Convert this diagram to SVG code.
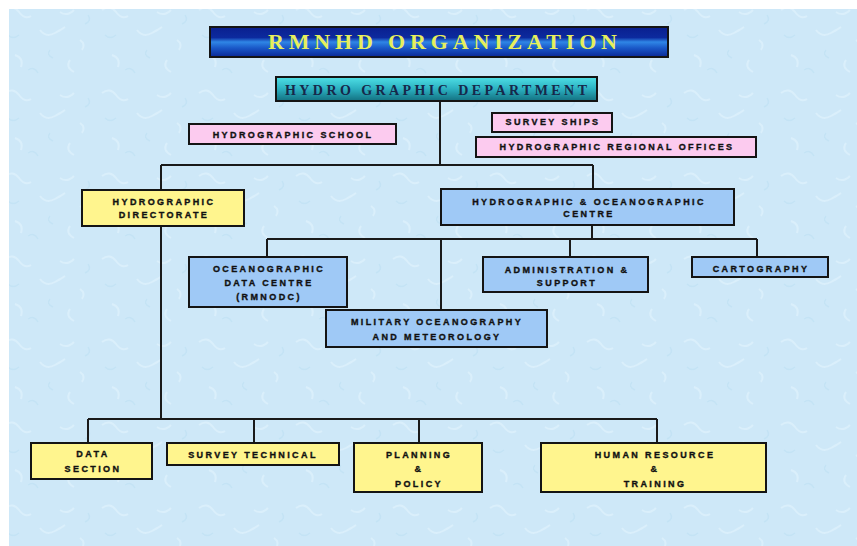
<svg xmlns="http://www.w3.org/2000/svg" width="857" height="546" viewBox="0 0 857 546">
<defs>
<linearGradient id="gTitle" x1="0" y1="0" x2="0" y2="1">
<stop offset="0" stop-color="#0a1f8e"/>
<stop offset="0.35" stop-color="#0c2a9e"/>
<stop offset="0.5" stop-color="#2f86e6"/>
<stop offset="0.7" stop-color="#1a58c8"/>
<stop offset="1" stop-color="#0a2896"/>
</linearGradient>
<linearGradient id="gDept" x1="0" y1="0" x2="0" y2="1">
<stop offset="0" stop-color="#4fe0e6"/>
<stop offset="0.5" stop-color="#2bb0c0"/>
<stop offset="1" stop-color="#137080"/>
</linearGradient>
<pattern id="tex" width="97" height="83" patternUnits="userSpaceOnUse">
<rect width="97" height="83" fill="#cee8f8"/>
<path d="M5,10 q8,-6 14,2 t12,4 M40,30 q6,8 15,3 t10,-6 M70,60 q-5,7 4,12 M15,55 q9,3 6,12 M60,12 q7,5 14,-2 M80,40 q6,4 2,10" fill="none" stroke="#e4f3fc" stroke-width="2" opacity="0.55"/>
<path d="M28,70 q6,-4 10,3 M50,50 q-4,5 3,8 M88,15 q4,6 -3,9 M8,35 q5,5 11,0" fill="none" stroke="#b9ddf2" stroke-width="1.5" opacity="0.5"/>
</pattern>
<style>
.bx{stroke:#141414;stroke-width:2}
.pk{fill:#fccbef}
.yl{fill:#fff58e}
.bl{fill:#9fc9f6}
.t{font-family:"Liberation Sans",Arial,sans-serif;font-weight:bold;font-size:9px;letter-spacing:2.4px;fill:#111;stroke:#111;stroke-width:0.35;text-anchor:middle}
.ln{fill:none;stroke:#1a1a1a;stroke-width:2}
</style>
</defs>
<rect x="0" y="0" width="857" height="546" fill="#ffffff"/>
<rect x="9" y="9" width="848" height="537" fill="url(#tex)"/>

<g id="connectors" class="ln">
<path d="M440,101 V165"/>
<path d="M161,165 H593"/>
<path d="M161,165 V190"/>
<path d="M593,165 V189"/>
<path d="M161,226 V419"/>
<path d="M88,419 H657"/>
<path d="M88,419 V443"/>
<path d="M254,419 V443"/>
<path d="M419,419 V443"/>
<path d="M657,419 V443"/>
<path d="M592,225 V239"/>
<path d="M267,239 H757"/>
<path d="M267,239 V257"/>
<path d="M441,239 V310"/>
<path d="M570,239 V257"/>
<path d="M757,239 V257"/>
</g>

<g id="title">
<rect x="210" y="27" width="458" height="30" fill="url(#gTitle)" class="bx"/>
<text x="268" y="49" font-family="Liberation Serif,Times New Roman,serif" font-weight="bold" font-size="22" fill="#e6ef5c" textLength="349" lengthAdjust="spacing">RMNHD ORGANIZATION</text>
</g>

<g id="hydrographic-department">
<rect x="276" y="77" width="321" height="24" fill="url(#gDept)" class="bx"/>
<text x="285" y="95" font-family="Liberation Serif,Times New Roman,serif" font-weight="bold" font-size="14" fill="#16284a" textLength="302" lengthAdjust="spacing">HYDRO GRAPHIC DEPARTMENT</text>
</g>

<g id="hydrographic-school">
<rect x="189" y="124" width="207" height="20" class="bx pk"/>
<text class="t" x="293" y="137.5">HYDROGRAPHIC SCHOOL</text>
</g>

<g id="survey-ships">
<rect x="492" y="113" width="120" height="19" class="bx pk"/>
<text class="t" x="553" y="124.5">SURVEY SHIPS</text>
</g>

<g id="regional-offices">
<rect x="476" y="137" width="280" height="20" class="bx pk"/>
<text class="t" x="617" y="150">HYDROGRAPHIC REGIONAL OFFICES</text>
</g>

<g id="directorate">
<rect x="82" y="190" width="162" height="36" class="bx yl"/>
<text class="t" x="164" y="204.5">HYDROGRAPHIC</text>
<text class="t" x="164" y="217.5">DIRECTORATE</text>
</g>

<g id="hoc-centre">
<rect x="441" y="189" width="293" height="36" class="bx bl"/>
<text class="t" x="589" y="205">HYDROGRAPHIC &amp; OCEANOGRAPHIC</text>
<text class="t" x="589" y="217">CENTRE</text>
</g>

<g id="oceanographic-data-centre">
<rect x="189" y="257" width="158" height="50" class="bx bl"/>
<text class="t" x="269" y="271.5">OCEANOGRAPHIC</text>
<text class="t" x="269" y="285.5">DATA CENTRE</text>
<text class="t" x="269" y="299.5">(RMNODC)</text>
</g>

<g id="military-oceanography">
<rect x="326" y="310" width="221" height="37" class="bx bl"/>
<text class="t" x="437" y="324.5">MILITARY OCEANOGRAPHY</text>
<text class="t" x="437" y="339.5">AND METEOROLOGY</text>
</g>

<g id="administration">
<rect x="483" y="257" width="165" height="35" class="bx bl"/>
<text class="t" x="567" y="272.5">ADMINISTRATION &amp;</text>
<text class="t" x="567" y="285.5">SUPPORT</text>
</g>

<g id="cartography">
<rect x="692" y="257" width="136" height="20" class="bx bl"/>
<text class="t" x="761" y="272">CARTOGRAPHY</text>
</g>

<g id="data-section">
<rect x="31" y="443" width="121" height="36" class="bx yl"/>
<text class="t" x="93" y="456.5">DATA</text>
<text class="t" x="93" y="471.5">SECTION</text>
</g>

<g id="survey-technical">
<rect x="167" y="443" width="172" height="22" class="bx yl"/>
<text class="t" x="253" y="457.5">SURVEY TECHNICAL</text>
</g>

<g id="planning-policy">
<rect x="354" y="443" width="128" height="49" class="bx yl"/>
<text class="t" x="419" y="457.5">PLANNING</text>
<text class="t" x="419" y="471.5">&amp;</text>
<text class="t" x="419" y="486.5">POLICY</text>
</g>

<g id="human-resource">
<rect x="541" y="443" width="225" height="49" class="bx yl"/>
<text class="t" x="655" y="457.5">HUMAN RESOURCE</text>
<text class="t" x="655" y="471.5">&amp;</text>
<text class="t" x="655" y="486.5">TRAINING</text>
</g>
</svg>
